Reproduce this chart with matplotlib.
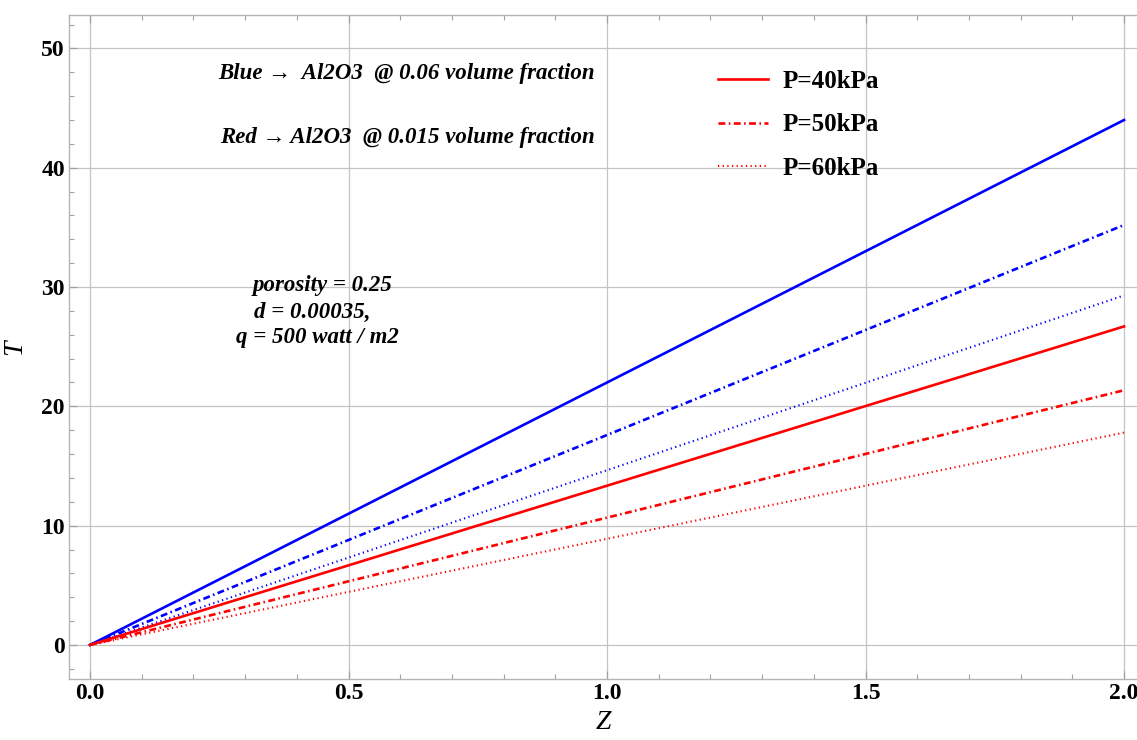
import matplotlib
matplotlib.use("Agg")
import matplotlib.pyplot as plt
from matplotlib.ticker import MultipleLocator

# Data
z = [0.0, 2.0]
blue_40 = [0.0, 44.0]
blue_50 = [0.0, 35.2]
blue_60 = [0.0, 29.3]
red_40 = [0.0, 26.7]
red_50 = [0.0, 21.35]
red_60 = [0.0, 17.8]
legend_labels = ["P=40kPa", "P=50kPa", "P=60kPa"]
x_ticks = [0.0, 0.5, 1.0, 1.5, 2.0]
y_ticks = [0, 10, 20, 30, 40, 50]

serif = ["Liberation Serif", "DejaVu Serif"]
plt.rcParams["font.family"] = serif

fig = plt.figure(figsize=(11.37, 7.40), dpi=100)
ax = fig.add_axes([69/1137, 1-679/740, (1137-69)/1137, (679-15)/740])

dashdot = (0, (2.6, 1.3, 0.6, 1.3))
dotted = (0, (0.6, 1.6))
lw = 1.9

ax.plot(z, blue_40, color=(0, 0, 1), lw=lw, ls="-")
ax.plot(z, blue_50, color=(0, 0, 1), lw=lw, ls=dashdot)
ax.plot(z, blue_60, color=(0, 0, 1), lw=lw*0.8, ls=dotted)
l1, = ax.plot(z, red_40, color=(1, 0, 0), lw=lw, ls="-")
l2, = ax.plot(z, red_50, color=(1, 0, 0), lw=lw, ls=dashdot)
l3, = ax.plot(z, red_60, color=(1, 0, 0), lw=lw*0.8, ls=dotted)

ax.set_xlim(-0.0406, 2.025)
ax.set_ylim(-2.85, 52.8)
ax.set_xticks(x_ticks)
ax.set_yticks(y_ticks)
ax.set_xticklabels([f"{v:.1f}" for v in x_ticks])
ax.set_yticklabels([str(v) for v in y_ticks])
ax.xaxis.set_minor_locator(MultipleLocator(0.1))
ax.yaxis.set_minor_locator(MultipleLocator(2))

ax.grid(True, which="major", color="#c4c4c4", lw=0.9)
ax.set_axisbelow(True)
for s in ["left", "bottom", "top"]:
    ax.spines[s].set_color("#b4b4b4")
    ax.spines[s].set_linewidth(1.0)
ax.spines["right"].set_visible(False)

ax.tick_params(axis="both", which="major", direction="in", length=6, width=0.9,
               color="#a0a0a0", labelsize=17, top=True, right=False)
ax.tick_params(axis="both", which="minor", direction="in", length=3.5, width=0.8,
               color="#a0a0a0", top=True, right=False)
for lab in ax.get_xticklabels() + ax.get_yticklabels():
    lab.set_fontweight("bold")
ax.tick_params(axis="x", pad=3)
ax.tick_params(axis="y", pad=3)

ax.set_xlabel("Z", fontsize=20, style="italic", labelpad=4)
ax.set_ylabel("T", fontsize=20, style="italic", labelpad=10)

tfs = 16.5
ax.text(0.613, 47.9, "Blue \u2192  Al2O3  @ 0.06 volume fraction", fontsize=tfs,
        style="italic", fontweight="bold", ha="center", va="center")
ax.text(0.613, 42.5, "Red \u2192 Al2O3  @ 0.015 volume fraction", fontsize=tfs,
        style="italic", fontweight="bold", ha="center", va="center")
ax.text(0.449, 30.15, "porosity = 0.25", fontsize=tfs, style="italic",
        fontweight="bold", ha="center", va="center")
ax.text(0.429, 27.9, "d = 0.00035,", fontsize=tfs, style="italic",
        fontweight="bold", ha="center", va="center")
ax.text(0.439, 25.8, "q = 500 watt / m2", fontsize=tfs, style="italic",
        fontweight="bold", ha="center", va="center")

leg = ax.legend([l1, l2, l3], legend_labels, loc="upper left",
                bbox_to_anchor=((718-69)/1068, 1-(70-15)/664), frameon=False,
                prop={"family": serif, "weight": "bold", "size": 18},
                handlelength=2.0, labelspacing=0.82, handletextpad=0.6,
                borderpad=0, borderaxespad=0)

fig.savefig("out.png", dpi=100)
